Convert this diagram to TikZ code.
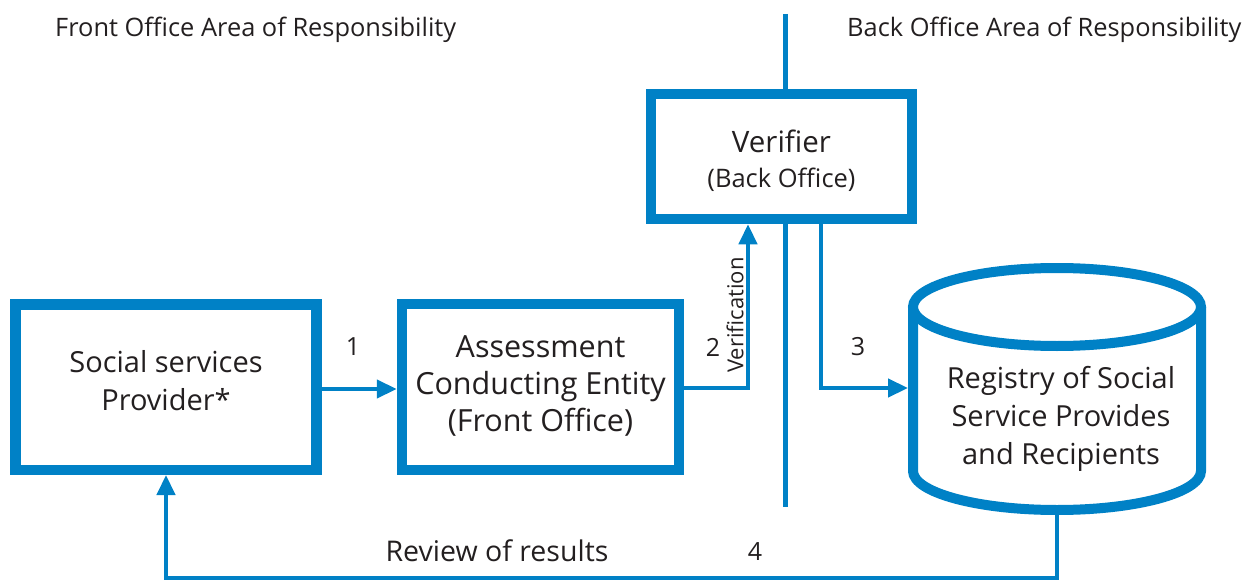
\documentclass[tikz,border=0pt]{standalone}
\usepackage{fontspec}
\setmainfont{Open Sans}
\usetikzlibrary{arrows.meta}
\definecolor{flowblue}{RGB}{0,129,198}
\definecolor{ink}{RGB}{35,31,32}
\newcommand{\fs}[2][1.3]{\fontsize{#2}{#1\dimexpr#2pt\relax}\selectfont}
\newcommand{\stack}[1]{\begin{tabular}{@{}c@{}}#1\end{tabular}}
% shift text inside a node without changing its box size
\newcommand{\nudge}[2]{\raisebox{#1}[\height][\depth]{#2}}
\begin{document}
\begin{tikzpicture}[x=1pt,y=-1pt,
  every node/.style={text=ink},
  stagebox/.style={draw=flowblue,line width=10.5pt,fill=white,rectangle,
    align=center,inner sep=0pt,font=\fs{29}},
  flow/.style={draw=flowblue,line width=4.5pt,
    -{Triangle[length=20pt,width=18pt]}},
  divider/.style={draw=flowblue,line width=5.5pt},
  note/.style={inner sep=0pt,font=\fs{25}},
  cylline/.style={draw=flowblue,line width=10pt}]
\useasboundingbox (0,0) rectangle (1251,583);

% area headings
\node[note,anchor=base west,font=\fs{25.4}] (fohead) at (55,37) {Front Office Area of Responsibility};
\node[note,anchor=base west,font=\fs{25.4}] (bohead) at (847,37) {Back Office Area of Responsibility};

% divider between front and back office
\draw[divider] (785.5,14) -- (785.5,507);

% process boxes
\node[stagebox,minimum width=301pt,minimum height=165.5pt] (prov) at (166,387)
  {\nudge{3pt}{\stack{Social services\\Provider*}}};
\node[stagebox,font={\fs[1.22]{30.5}},minimum width=277pt,minimum height=166pt] (ace) at (540.5,387)
  {\stack{Assessment\\Conducting Entity\\(Front Office)}};
\node[stagebox,minimum width=261pt,minimum height=125pt] (ver) at (781.5,156.5)
  {\nudge{-6pt}{\stack{\fs{29.5}Verifier\\[-3pt]\fs{25.5}(Back Office)}}};

% registry drawn as a cylinder
\node[inner sep=0pt,outer sep=5pt,minimum width=288pt,minimum height=164pt] (reg) at (1057,389) {};
\fill[white] (913,307) -- (913,471) arc[start angle=180,end angle=360,x radius=144pt,y radius=39pt] -- (1201,307) -- cycle;
\draw[cylline] (913,307) -- (913,471) arc[start angle=180,end angle=360,x radius=144pt,y radius=39pt] -- (1201,307);
\draw[cylline,fill=white] (1057,307) circle[x radius=144pt,y radius=39pt];
\node[align=center,inner sep=0pt,font=\fs{29}] (regtext) at (1061,419)
  {Registry of Social\\Service Provides\\and Recipients};
\coordinate (regbot) at (1057,515);

% connectors
\draw[flow] (prov.east |- 0,389) -- (ace.west |- 0,389);
\draw[flow] (ace.east |- 0,388) -| ([xshift=-33.5pt]ver.south);
\draw[flow] ([xshift=39.5pt]ver.south) |- (reg.west |- 0,388);
\draw[flow] (regbot) -- (1057,578) -| (prov.south);

% connector labels
\node[note] (n1) at (353,347) {1};
\node[note] (n2) at (713,347) {2};
\node[note] (n3) at (858,347) {3};
\node[note] (n4) at (755,552) {4};
\node[inner sep=0pt,font=\fs{22},rotate=90] (verif) at (735,315) {Verification};
\node[inner sep=0pt,font=\fs{28.5}] (review) at (497,551) {Review of results};
\end{tikzpicture}
\end{document}
